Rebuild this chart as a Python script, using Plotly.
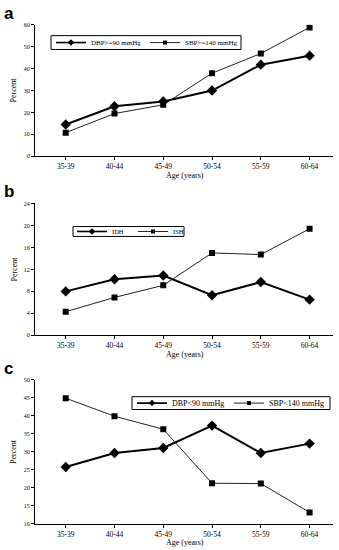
import plotly.graph_objects as go

ages = ["35-39", "40-44", "45-49", "50-54", "55-59", "60-64"]

# Panel a
dbp_ge90 = [14.5, 22.8, 25.0, 30.0, 41.8, 45.9]
sbp_ge140 = [10.8, 19.5, 23.5, 37.9, 46.9, 58.8]
# Panel b
idh = [8.0, 10.2, 10.9, 7.3, 9.7, 6.5]
ish = [4.3, 6.9, 9.1, 15.0, 14.7, 19.4]
# Panel c
dbp_lt90 = [25.8, 29.7, 31.1, 37.3, 29.7, 32.3]
sbp_lt140 = [44.9, 39.9, 36.3, 21.3, 21.2, 13.2]

W, H = 339, 550
SERIF = "Liberation Serif"

def py(p):
    return 1 - p / H

def px(p):
    return p / W

fig = go.Figure()

panels = [
    ("", "DBP>=90 mmHg", dbp_ge90, "SBP>=140 mmHg", sbp_ge140, [0, 60], 10, 22, 155, "legend"),
    ("2", "IDH", idh, "ISH", ish, [0, 24], 4, 202.7, 336, "legend2"),
    ("3", "DBP<90 mmHg", dbp_lt90, "SBP<140 mmHg", sbp_lt140, [10, 50], 5, 381, 526.7, "legend3"),
]

for suf, n1, d1, n2, d2, yr, dt, top, bot, lg in panels:
    fig.add_trace(go.Scatter(
        x=ages, y=d1, name=n1, mode="lines+markers", showlegend=False,
        line=dict(color="black", width=2),
        marker=dict(symbol="diamond", size=8, color="black"),
        xaxis="x" + suf, yaxis="y" + suf,
    ))
    fig.add_trace(go.Scatter(
        x=ages, y=d2, name=n2, mode="lines+markers", showlegend=False,
        line=dict(color="#222222", width=1),
        marker=dict(symbol="square", size=6, color="black"),
        xaxis="x" + suf, yaxis="y" + suf,
    ))
    # legend-only entries (smaller glyphs, as in the reference legend)
    fig.add_trace(go.Scatter(
        x=[None], y=[None], name=n1, mode="lines+markers", showlegend=True,
        line=dict(color="black", width=1.6),
        marker=dict(symbol="diamond", size=5, color="black"),
        xaxis="x" + suf, yaxis="y" + suf, legend=lg,
    ))
    fig.add_trace(go.Scatter(
        x=[None], y=[None], name=n2, mode="lines+markers", showlegend=True,
        line=dict(color="#222222", width=1),
        marker=dict(symbol="square", size=4, color="black"),
        xaxis="x" + suf, yaxis="y" + suf, legend=lg,
    ))
    xa = dict(
        domain=[px(35), px(333)], range=[-0.63, 5.48], type="category",
        showline=True, linecolor="black", linewidth=1,
        ticks="outside", ticklen=3, tickcolor="black", showgrid=False,
        zeroline=False,
        tickfont=dict(family=SERIF, size=7.5, color="black"),
        anchor="y" + suf,
    )
    ya = dict(
        domain=[py(bot), py(top)], range=yr, dtick=dt, tick0=0,
        showline=True, linecolor="black", linewidth=1,
        ticks="outside", ticklen=3, tickcolor="black", showgrid=False,
        zeroline=False,
        tickfont=dict(family=SERIF, size=6, color="black"),
        anchor="x" + suf,
    )
    fig.update_layout(**{"xaxis" + suf: xa, "yaxis" + suf: ya})
    fig.add_annotation(text="Age (years)", x=px(185), y=py(bot + 19), xref="paper", yref="paper",
                       xanchor="center", yanchor="middle", showarrow=False,
                       font=dict(family=SERIF, size=8, color="black"))
    fig.add_annotation(text="Percent", x=px(14), y=py((top + bot) / 2), xref="paper", yref="paper",
                       xanchor="center", yanchor="middle", showarrow=False, textangle=-90,
                       font=dict(family=SERIF, size=8, color="black"))

leg_common = dict(
    orientation="h", bgcolor="rgba(0,0,0,0)", borderwidth=0,
    xanchor="left", yanchor="middle", xref="paper", yref="paper",
)
fig.update_layout(
    legend=dict(x=px(51), y=py(40), entrywidth=49,
                font=dict(family=SERIF, size=7, color="black"), **leg_common),
    legend2=dict(x=px(72), y=py(231), entrywidth=16,
                 font=dict(family=SERIF, size=6.5, color="black"), **leg_common),
    legend3=dict(x=px(132), y=py(404.5), entrywidth=52,
                 font=dict(family=SERIF, size=8, color="black"), **leg_common),
)

boxes = [(51, 33, 241, 47), (73, 226, 184, 236), (132, 398, 330, 411)]
for x0, y0, x1, y1 in boxes:
    fig.add_shape(type="rect", xref="paper", yref="paper",
                  x0=px(x0), x1=px(x1), y0=py(y0), y1=py(y1),
                  line=dict(color="black", width=1), fillcolor="rgba(0,0,0,0)")

for lab, yy in [("a", 11), ("b", 191), ("c", 370)]:
    fig.add_annotation(text="<b>%s</b>" % lab, x=px(2), y=py(yy), xref="paper", yref="paper",
                       xanchor="left", yanchor="middle", showarrow=False,
                       font=dict(family="Liberation Sans", size=17, color="black"))

fig.update_layout(
    width=W, height=H, margin=dict(l=0, r=0, t=0, b=0),
    paper_bgcolor="white", plot_bgcolor="white", showlegend=True,
)

fig.write_html("out.html", config={"displayModeBar": False},
               post_script="document.body.style.margin='0';document.body.style.padding='0';")
